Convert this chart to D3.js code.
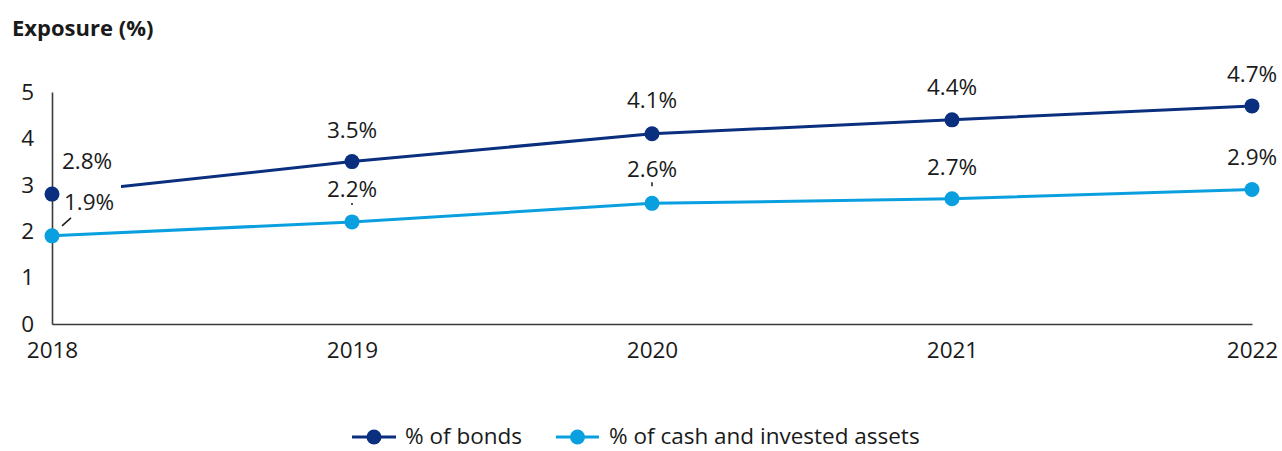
<!DOCTYPE html>
<html>
<head>
<meta charset="utf-8">
<script src="https://cdn.jsdelivr.net/npm/d3@7"></script>
<style>
  body { margin: 0; background: #ffffff; }
  svg text { font-family: "Open Sans", sans-serif; fill: #1a1a1a; }
</style>
</head>
<body>
<svg id="chart" width="1282" height="451"></svg>
<script>
const years = ["2018", "2019", "2020", "2021", "2022"];
const bonds = [2.8, 3.5, 4.1, 4.4, 4.7];
const cash = [1.9, 2.2, 2.6, 2.7, 2.9];
const yTicks = [0, 1, 2, 3, 4, 5];
const seriesNames = ["% of bonds", "% of cash and invested assets"];

const colors = ["#0a2f7e", "#0aa0e0"];
const svg = d3.select("#chart");

const x = d3.scalePoint().domain(years).range([52, 1252]);
const y = d3.scaleLinear().domain([0, 5]).range([324, 92]);

// title
svg.append("text")
    .attr("x", 12)
    .attr("y", 36)
    .attr("font-size", 22)
    .attr("font-weight", "bold")
    .text("Exposure (%)");

// axes
const yAxis = svg.append("g")
    .attr("transform", `translate(${x(years[0])},0)`)
    .call(d3.axisLeft(y).tickValues(yTicks).tickSize(0).tickPadding(18).tickFormat(d3.format("d")));
const xAxis = svg.append("g")
    .attr("transform", `translate(0,${y(0)})`)
    .call(d3.axisBottom(x).tickSize(0).tickPadding(18));
[yAxis, xAxis].forEach(g => {
    g.select(".domain").attr("stroke", "#3a3a3a").attr("stroke-width", 1.6);
    g.selectAll("text").attr("font-size", 22.5).attr("fill", "#1a1a1a")
        .style("font-family", "'Open Sans', sans-serif");
});

const series = [bonds, cash];
const line = d3.line().x((d, i) => x(years[i])).y(d => y(d));

series.forEach((vals, s) => {
    svg.append("path")
        .datum(vals)
        .attr("d", line)
        .attr("fill", "none")
        .attr("stroke", colors[s])
        .attr("stroke-width", 3);
});

// label placement (dx, dy of text baseline relative to point), per series
const labelShift = [
    [[35, -25], [0, -24], [0, -26], [0, -25], [0, -24]],
    [[37, -26], [0, -25], [0, -26], [0, -24], [0, -24]]
];

// white box behind the 2018 cash label hides the start of the bonds line
svg.append("rect")
    .attr("x", x(years[0]) + 6)
    .attr("y", y(cash[0]) - 51)
    .attr("width", 63)
    .attr("height", 33)
    .attr("fill", "#ffffff");

// leader lines
const leaders = [
    { s: 1, i: 0, x1: 10, y1: -10, x2: 19, y2: -18 },
    { s: 1, i: 1, x1: 0, y1: -17, x2: 0, y2: -19 },
    { s: 1, i: 2, x1: 0, y1: -17, x2: 0, y2: -21 }
];
leaders.forEach(l => {
    const px = x(years[l.i]), py = y(series[l.s][l.i]);
    svg.append("line")
        .attr("x1", px + l.x1).attr("y1", py + l.y1)
        .attr("x2", px + l.x2).attr("y2", py + l.y2)
        .attr("stroke", "#1a1a1a").attr("stroke-width", 1.5);
});

series.forEach((vals, s) => {
    svg.selectAll(null)
        .data(vals)
        .enter().append("circle")
        .attr("cx", (d, i) => x(years[i]))
        .attr("cy", d => y(d))
        .attr("r", 7.5)
        .attr("fill", colors[s]);

    svg.selectAll(null)
        .data(vals)
        .enter().append("text")
        .attr("x", (d, i) => x(years[i]) + labelShift[s][i][0])
        .attr("y", (d, i) => y(d) + labelShift[s][i][1])
        .attr("text-anchor", "middle")
        .attr("font-size", 22.5)
        .text(d => d.toFixed(1) + "%");
});

// legend
const legendItems = [
    { x1: 352, x2: 396, tx: 405 },
    { x1: 556, x2: 599, tx: 609 }
];
const legendY = 437;
legendItems.forEach((it, s) => {
    svg.append("line")
        .attr("x1", it.x1).attr("x2", it.x2)
        .attr("y1", legendY).attr("y2", legendY)
        .attr("stroke", colors[s]).attr("stroke-width", 3);
    svg.append("circle")
        .attr("cx", (it.x1 + it.x2) / 2).attr("cy", legendY)
        .attr("r", 7.5).attr("fill", colors[s]);
    svg.append("text")
        .attr("x", it.tx).attr("y", legendY)
        .attr("dy", "0.3em")
        .attr("font-size", 22.5)
        .text(seriesNames[s]);
});
</script>
</body>
</html>
